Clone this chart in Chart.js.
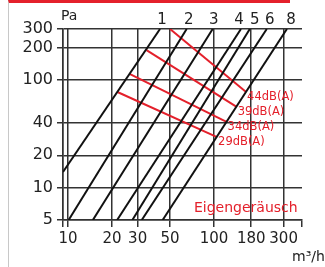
<!DOCTYPE html>
<html>
<head>
<meta charset="utf-8">
<script src="https://cdn.jsdelivr.net/npm/chart.js@4"></script>
<style>
  body { margin: 0; background: #fff; }
  #rahmen {
    position: absolute; left: 8px; top: 0; width: 282px; height: 267px;
    border-top: 3px solid #e4202b; border-left: 1px solid #c8c8c8;
    box-sizing: border-box;
  }
  #wrap { position: absolute; left: 0; top: 0; width: 325px; height: 267px; }
</style>
</head>
<body>
<div id="rahmen"></div>
<div id="wrap"><canvas id="diagramm" width="325" height="267"></canvas></div>
<script>
// Kennlinien 1..8 (Volumenstrom m3/h, Druck Pa), je Anfang und Ende
var kennlinienNr = ["1", "2", "3", "4", "5", "6", "8"];
var kennlinienQ = [[9.24, 42.7], [10.1, 65], [14.8, 98], [21.7, 153], [27.6, 176], [32, 230], [44.5, 316]];
var kennlinienP = [[14, 300], [5, 300], [5, 300], [5, 300], [5, 300], [5, 300], [5, 300]];

// Schallleistung (rote Linien)
var schallLabels = ["44dB(A)", "39dB(A)", "34dB(A)", "29dB(A)"];
var schallQ = [[50, 166], [34.5, 143], [26.6, 122], [21.8, 105]];
var schallP = [[300, 77.7], [191, 56.4], [114, 40.9], [77.7, 29.6]];

// Achsen
var xTicks = [9.24, 10, 20, 30, 50, 100, 180, 300, 401];
var yTicks = [5, 10, 20, 40, 100, 200, 300];

var schwarz = "#111";
var rot = "#e4202b";
var gitter = "#333";
var schrift = "DejaVu Sans";

var datensaetze = [];
for (var i = 0; i < kennlinienNr.length; i++) {
  datensaetze.push({
    label: kennlinienNr[i],
    data: [
      { x: kennlinienQ[i][0], y: kennlinienP[i][0] },
      { x: kennlinienQ[i][1], y: kennlinienP[i][1] },
    ],
    borderColor: schwarz,
    borderWidth: 2,
    pointRadius: 0,
  });
}
for (var j = 0; j < schallLabels.length; j++) {
  datensaetze.push({
    label: schallLabels[j],
    data: [
      { x: schallQ[j][0], y: schallP[j][0] },
      { x: schallQ[j][1], y: schallP[j][1] },
    ],
    borderColor: rot,
    borderWidth: 2,
    pointRadius: 0,
  });
}

// Beschriftungen im Diagramm
var texte = {
  id: "texte",
  afterDatasetsDraw(chart) {
    var ctx = chart.ctx;
    var area = chart.chartArea;
    var nudge = [2, 2, 1, -2, 5, 3, 4];
    ctx.save();
    ctx.textBaseline = "middle";

    ctx.fillStyle = "#222";
    ctx.font = "15px '" + schrift + "'";
    ctx.textAlign = "center";
    for (var i = 0; i < kennlinienNr.length; i++) {
      var p = chart.getDatasetMeta(i).data[1];
      ctx.fillText(kennlinienNr[i], p.x + nudge[i], area.top - 9);
    }

    ctx.fillStyle = rot;
    ctx.font = "11.5px '" + schrift + "'";
    ctx.textAlign = "left";
    for (var j = 0; j < schallLabels.length; j++) {
      var e = chart.getDatasetMeta(kennlinienNr.length + j).data[1];
      ctx.fillText(schallLabels[j], e.x + 1, e.y + 5);
    }

    ctx.font = "14px '" + schrift + "'";
    ctx.fillText("Eigengeräusch", area.right - 108, area.bottom - 12);

    ctx.fillStyle = "#222";
    ctx.font = "14px '" + schrift + "'";
    ctx.fillText("Pa", area.left - 2, area.top - 13);
    ctx.fillText("m³/h", area.right - 10, 257);
    ctx.restore();
  },
};

new Chart(document.getElementById("diagramm"), {
  type: "line",
  data: { datasets: datensaetze },
  options: {
    responsive: false,
    animation: false,
    layout: { padding: { top: 29, right: 23, left: 0, bottom: 0 } },
    plugins: { legend: { display: false }, tooltip: { enabled: false } },
    scales: {
      x: {
        type: "logarithmic",
        min: 9.24,
        max: 401,
        afterBuildTicks(s) {
          s.ticks = xTicks.map((v) => ({ value: v }));
        },
        afterFit(s) {
          s.height = 47;
          s.paddingLeft = 0;
          s.paddingRight = 0;
        },
        ticks: {
          color: "#222",
          font: { family: schrift, size: 15 },
          padding: 3,
          maxRotation: 0,
          autoSkip: false,
          callback: (v) => (v < 10 || v > 300 ? "" : String(v)),
        },
        grid: {
          color: (c) => (c.tick && c.tick.value > 300 ? "rgba(0,0,0,0)" : gitter),
          tickColor: gitter,
          lineWidth: 1.5,
          tickLength: 7,
        },
        border: { display: true, color: gitter, width: 1.5 },
      },
      y: {
        type: "logarithmic",
        min: 5,
        max: 300,
        afterBuildTicks(s) {
          s.ticks = yTicks.map((v) => ({ value: v }));
        },
        afterFit(s) {
          s.width = 63;
          s.paddingTop = 0;
          s.paddingBottom = 0;
        },
        ticks: {
          color: "#222",
          font: { family: schrift, size: 16 },
          padding: 4,
          autoSkip: false,
          callback: (v) => String(v),
        },
        grid: { color: gitter, tickColor: gitter, lineWidth: 1.5, tickLength: 6 },
        border: { display: true, color: gitter, width: 1.5 },
      },
    },
  },
  plugins: [texte],
});
</script>
</body>
</html>
